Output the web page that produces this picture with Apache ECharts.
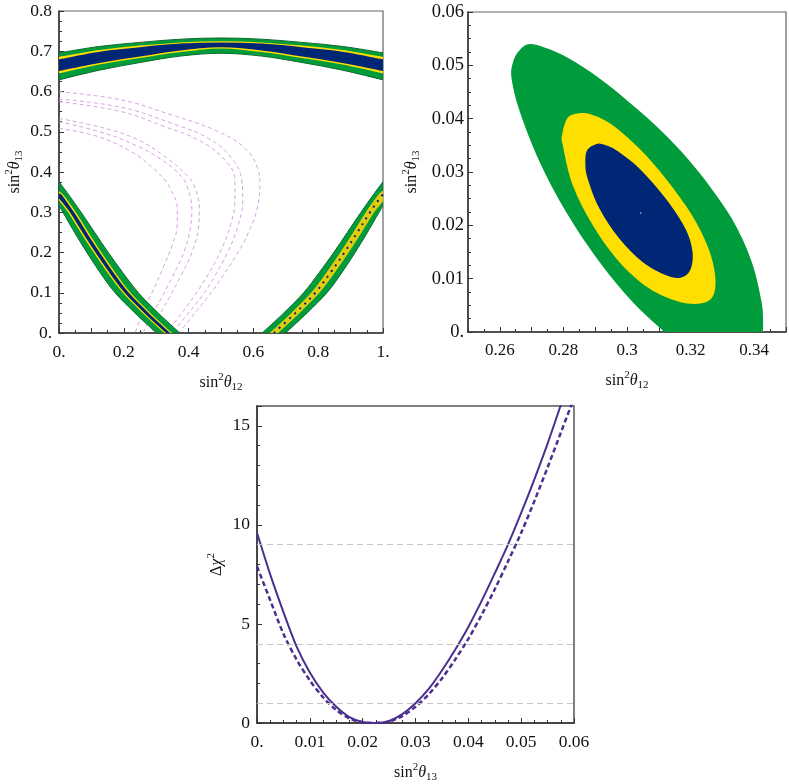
<!DOCTYPE html>
<html><head><meta charset="utf-8">
<script src="https://cdn.jsdelivr.net/npm/echarts@6/dist/echarts.min.js"></script>
<style>html,body{margin:0;padding:0;background:#fff}#c{width:789px;height:784px}</style>
</head><body><div id="c"></div>
<script>
// ---------- Panel A: sin^2(theta12) vs sin^2(theta13), full range ----------
const topGreenUp  = [[0,.696],[.125,.712],[.25,.722],[.375,.730],[.5,.733],[.625,.730],[.75,.722],[.875,.712],[1,.696]];
const topGreenLo  = [[1,.629],[.875,.653],[.75,.672],[.625,.688],[.5,.695],[.375,.688],[.25,.672],[.125,.653],[0,.629]];
const topYellowUp = [[0,.686],[.125,.703],[.25,.714],[.375,.722],[.5,.725],[.625,.722],[.75,.714],[.875,.703],[1,.686]];
const topYellowLo = [[1,.645],[.875,.667],[.75,.683],[.625,.698],[.5,.707],[.375,.698],[.25,.683],[.125,.667],[0,.645]];
const topBlueUp   = [[0,.680],[.125,.699],[.25,.710],[.375,.719],[.5,.722],[.625,.719],[.75,.710],[.875,.699],[1,.680]];
const topBlueLo   = [[1,.651],[.875,.671],[.75,.687],[.625,.702],[.5,.710],[.375,.702],[.25,.687],[.125,.671],[0,.651]];

const leftGreenOut  = [[0,.376],[.033,.34],[.068,.30],[.110,.25],[.152,.20],[.197,.15],[.245,.10],[.306,.05],[.373,0]];
const leftGreenIn   = [[.301,0],[.234,.05],[.173,.10],[.127,.15],[.086,.20],[.048,.25],[.012,.30],[0,.316]];
const leftYellowOut = [[0,.352],[.017,.34],[.052,.30],[.091,.25],[.131,.20],[.174,.15],[.221,.10],[.282,.05],[.349,0]];
const leftYellowIn  = [[.325,0],[.258,.05],[.197,.10],[.150,.15],[.107,.20],[.067,.25],[.028,.30],[0,.329]];
const leftBlueOut   = [[0,.347],[.0115,.34],[.0465,.30],[.0855,.25],[.1255,.20],[.1685,.15],[.2155,.10],[.2765,.05],[.3435,0]];
const leftBlueIn    = [[.3305,0],[.2635,.05],[.2025,.10],[.1555,.15],[.1125,.20],[.0725,.25],[.0335,.30],[0,.334]];

const rightGreenOut  = [[1,.376],[.967,.34],[.932,.30],[.890,.25],[.848,.20],[.803,.15],[.755,.10],[.694,.05],[.627,0]];
const rightGreenIn   = [[.699,0],[.766,.05],[.827,.10],[.873,.15],[.914,.20],[.952,.25],[.988,.30],[1,.316]];
const rightYellowOut = [[1,.354],[.982,.34],[.947,.30],[.908,.25],[.868,.20],[.825,.15],[.778,.10],[.717,.05],[.650,0]];
const rightYellowIn  = [[.676,0],[.743,.05],[.804,.10],[.851,.15],[.894,.20],[.934,.25],[.973,.30],[1,.327]];
const rightBlueDots  = [[.663,0],[.730,.05],[.791,.10],[.838,.15],[.881,.20],[.921,.25],[.960,.30],[.995,.34],[1,.344]];

const dashCurve1 = [[0,.5995],[.193,.579],[.348,.5416],[.481,.504],[.574,.459],[.615,.405],[.62,.372],[.612,.31],[.585,.25],[.545,.19],[.50,.135],[.455,.085],[.41,.04],[.37,0]];
const dashCurve2 = [[0,.581],[.193,.5607],[.348,.521],[.461,.4837],[.533,.434],[.564,.380],[.567,.33],[.55,.26],[.52,.20],[.48,.14],[.44,.09],[.395,.045],[.35,0]];
const dashCurve3 = [[0,.5747],[.193,.55],[.327,.5125],[.43,.4795],[.512,.43],[.543,.38],[.543,.33],[.53,.27],[.50,.205],[.46,.145],[.42,.095],[.375,.045],[.33,0]];
const dashCurve4 = [[0,.533],[.142,.5086],[.245,.4795],[.327,.438],[.399,.388],[.42,.36],[.433,.31],[.43,.26],[.41,.20],[.375,.14],[.335,.08],[.30,.03],[.285,0]];
const dashCurve5 = [[0,.525],[.142,.496],[.245,.463],[.317,.43],[.379,.388],[.399,.355],[.41,.31],[.405,.26],[.385,.20],[.35,.14],[.315,.085],[.28,.035],[.26,0]];
const dashCurve6 = [[0,.5086],[.121,.4877],[.224,.450],[.286,.413],[.327,.38],[.343,.36],[.365,.31],[.365,.27],[.35,.22],[.32,.16],[.29,.105],[.26,.055],[.235,0]];

// ---------- Panel B: zoomed allowed region ----------
const ellGreen = [[.3118,0],[.3017,.00568],[.2913,.01318],[.2808,.02256],[.2725,.03193],[.2663,.0413],[.2637,.04757],[.2642,.05068],[.2663,.05288],
  [.2704,.05394],[.2808,.05162],[.2913,.04757],[.3017,.04256],[.3121,.03694],[.3225,.03006],[.3329,.02132],[.3392,.01318],[.3423,.00568],[.3428,.00193],[.3427,0]];
const ellYellow = [[.2796,.03694],[.2798,.03506],[.2829,.02756],[.2892,.02006],[.2975,.01318],[.3069,.00819],[.3163,.00568],[.3235,.00538],[.3272,.00694],
  [.3277,.01069],[.3256,.01569],[.3204,.02194],[.3121,.02882],[.3038,.03444],[.2954,.03881],[.2892,.04069],[.285,.04101],[.2813,.04013]];
const ellBlue = [[.2875,.03413],[.2869,.03193],[.2876,.02882],[.2913,.02319],[.2975,.01757],[.3048,.01318],[.3121,.01069],[.3168,.01018],[.3199,.01163],
  [.3206,.01506],[.3183,.01944],[.3121,.02507],[.3038,.0307],[.2965,.03413],[.2923,.0352],[.2902,.0352]];
const bestFit = [[.3043,.0223]];

// ---------- Panel C: delta chi^2 ----------
const chiX = [0,.0025,.005,.0075,.01,.0125,.015,.0175,.02,.0225,.025,.0275,.03,.0325,.035,.0375,.04,.0425,.045,.0475,.05,.0525,.055,.0575,.06];
const chiSolid = [9.6,7.5,5.6,3.85,2.55,1.55,.82,.3,.05,0,.1,.45,1.0,1.72,2.65,3.7,4.85,6.15,7.55,9.0,10.6,12.3,14.1,16.05,null];
const chiDashed = [7.9,6.2,4.5,3.2,2.15,1.3,.65,.23,.03,0,.07,.35,.82,1.45,2.25,3.2,4.25,5.45,6.75,8.15,9.6,11.2,12.9,14.65,16.4];
const chiLevels = [1,4,9];

// ---------- styling ----------
const GREEN='#009b3a', YELLOW='#fedf00', BLUE='#002776', DKGREEN='#0c6a2c', PINK='#d8a2e2', PURPLE='#4b2f8f';
const FF='"Liberation Serif","Times New Roman",serif';
const rich = {
  n:{fontFamily:FF,fontSize:16,color:'#111'},
  it:{fontFamily:FF,fontSize:16,fontStyle:'italic',color:'#111'},
  sup:{fontFamily:FF,fontSize:11,color:'#111',padding:[0,0,10,0]},
  sub:{fontFamily:FF,fontSize:11,color:'#111',padding:[10,0,0,0]}
};
const nm12='{n|sin}{sup|2}{it|θ}{sub|12}', nm13='{n|sin}{sup|2}{it|θ}{sub|13}';

function crOpen(P){
  let d='';
  for(let i=0;i<P.length-1;i++){
    const p0=P[i-1]||P[i], p1=P[i], p2=P[i+1], p3=P[i+2]||P[i+1];
    const c1=[p1[0]+(p2[0]-p0[0])/6, p1[1]+(p2[1]-p0[1])/6];
    const c2=[p2[0]-(p3[0]-p1[0])/6, p2[1]-(p3[1]-p1[1])/6];
    d+='C'+c1[0]+' '+c1[1]+' '+c2[0]+' '+c2[1]+' '+p2[0]+' '+p2[1];
  }
  return d;
}
function crLoop(P){
  const n=P.length; let d='M'+P[0][0]+' '+P[0][1];
  for(let i=0;i<n;i++){
    const p0=P[(i-1+n)%n], p1=P[i], p2=P[(i+1)%n], p3=P[(i+2)%n];
    const c1=[p1[0]+(p2[0]-p0[0])/6, p1[1]+(p2[1]-p0[1])/6];
    const c2=[p2[0]-(p3[0]-p1[0])/6, p2[1]-(p3[1]-p1[1])/6];
    d+='C'+c1[0]+' '+c1[1]+' '+c2[0]+' '+c2[1]+' '+p2[0]+' '+p2[1];
  }
  return d+'Z';
}
function region(edges, gi, fill, stroke, z, loop){
  const all=[].concat(...edges);
  return {type:'custom', xAxisIndex:gi, yAxisIndex:gi, clip:true, z:z, silent:true, data:all, encode:{x:0,y:1},
    renderItem:function(params, api){
      if(params.dataIndex!==0) return null;
      let d;
      if(loop){ d=crLoop(edges[0].map(p=>api.coord(p))); }
      else {
        d='';
        edges.forEach((e,k)=>{ const P=e.map(p=>api.coord(p)); d+=(k===0?'M':'L')+P[0][0]+' '+P[0][1]+crOpen(P); });
        d+='Z';
      }
      return {type:'path', shape:{pathData:d}, style:{fill:fill, stroke:stroke||null, lineWidth:stroke?1:0}};
    }};
}
function dash(pts){
  return {type:'line', xAxisIndex:0, yAxisIndex:0, data:pts, smooth:0.4, showSymbol:false, clip:true, z:1, silent:true,
    lineStyle:{color:PINK, width:1, type:[4,3]}};
}
function fmtDot(dec){ return v=>{ if(Math.abs(v)<1e-9) return '0.'; if(Math.abs(v-1)<1e-9) return '1.'; return String(+v.toFixed(dec)); }; }

const axLine={lineStyle:{color:'#333',width:1.5}};
function lbl(fs){ return {fontFamily:FF,fontSize:fs,color:'#111'}; }
function xa(gi,min,max,interval,fmt,split,name,gap,fs){
  return {gridIndex:gi,type:'value',min,max,interval,axisLine:axLine,
    axisTick:{inside:true,length:5,lineStyle:{color:'#333'}},
    minorTick:{show:true,splitNumber:split,length:3,lineStyle:{color:'#333'}},
    splitLine:{show:false},minorSplitLine:{show:false},
    axisLabel:Object.assign({formatter:fmt,margin:10,showMinLabel:true,showMaxLabel:true},lbl(fs)),
    name, nameLocation:'middle', nameGap:gap, nameTextStyle:{rich}};
}
function ya(gi,min,max,interval,fmt,split,name,gap,fs,margin){
  return {gridIndex:gi,type:'value',min,max,interval,axisLine:axLine,
    axisTick:{inside:true,length:5,lineStyle:{color:'#333'}},
    minorTick:{show:true,splitNumber:split,length:3,lineStyle:{color:'#333'}},
    splitLine:{show:false},minorSplitLine:{show:false},
    axisLabel:Object.assign({formatter:fmt,margin:margin},lbl(fs)),
    name, nameLocation:'middle', nameRotate:90, nameGap:gap, nameTextStyle:{rich}};
}

const chart = echarts.init(document.getElementById('c'));
chart.setOption({
  animation:false,
  grid:[
    {left:59,top:11,width:324,height:322,show:true,borderColor:'#666',borderWidth:1.2},
    {left:468,top:12,width:319,height:320,show:true,borderColor:'#666',borderWidth:1.2},
    {left:257,top:406,width:317,height:317,show:true,borderColor:'#555',borderWidth:1.5}
  ],
  xAxis:[
    xa(0,0,1,0.1,v=>{const r=Math.round(v*10); if(r%2) return ''; return fmtDot(1)(v);},2,nm12,39,17.5),
    xa(1,0.25,0.35,0.01,v=>{const r=Math.round(v*100); if(r%2) return ''; return String(+v.toFixed(2));},2,nm12,38,17),
    xa(2,0,0.06,0.01,fmtDot(2),4,nm13,39,17.5)
  ],
  yAxis:[
    ya(0,0,0.8,0.1,fmtDot(1),4,nm13,34,17.5,7),
    ya(1,0,0.06,0.01,fmtDot(2),4,nm13,46,18.5,4),
    ya(2,0,16,5,v=>(v>15?'':String(v)),5,'{n|Δ}{it|χ}{sup|2}',30,17.5,7)
  ],
  series:[
    dash(dashCurve1),dash(dashCurve2),dash(dashCurve3),dash(dashCurve4),dash(dashCurve5),dash(dashCurve6),
    region([topGreenUp,topGreenLo],0,GREEN,DKGREEN,3),
    region([topYellowUp,topYellowLo],0,YELLOW,null,4),
    region([topBlueUp,topBlueLo],0,BLUE,null,5),
    region([leftGreenOut,leftGreenIn],0,GREEN,DKGREEN,3),
    region([leftYellowOut,leftYellowIn],0,YELLOW,null,4),
    region([leftBlueOut,leftBlueIn],0,BLUE,null,5),
    region([rightGreenOut,rightGreenIn],0,GREEN,DKGREEN,3),
    region([rightYellowOut,rightYellowIn],0,'#e2cc10',null,4),
    {type:'line',xAxisIndex:0,yAxisIndex:0,data:rightBlueDots,smooth:0.4,showSymbol:false,clip:true,z:6,silent:true,
      lineStyle:{color:BLUE,width:2,type:[2,5]}},
    region([ellGreen],1,GREEN,null,3),
    region([ellYellow],1,YELLOW,null,4,true),
    region([ellBlue],1,BLUE,null,5,true),
    {type:'scatter',xAxisIndex:1,yAxisIndex:1,data:bestFit,symbolSize:2,itemStyle:{color:'#9aa8d8'},z:6,silent:true},
    {type:'line',xAxisIndex:2,yAxisIndex:2,data:chiX.map((x,i)=>[x,chiSolid[i]]),smooth:0.3,showSymbol:false,clip:true,z:3,
      lineStyle:{color:PURPLE,width:2},
      markLine:{silent:true,symbol:'none',label:{show:false},lineStyle:{color:'#c4c4c4',width:1,type:[6,4]},data:chiLevels.map(v=>({yAxis:v}))}},
    {type:'line',xAxisIndex:2,yAxisIndex:2,data:chiX.map((x,i)=>[x,chiDashed[i]]),smooth:0.3,showSymbol:false,clip:true,z:3,
      lineStyle:{color:PURPLE,width:2.5,type:[5,3]}}
  ]
});
</script></body></html>
